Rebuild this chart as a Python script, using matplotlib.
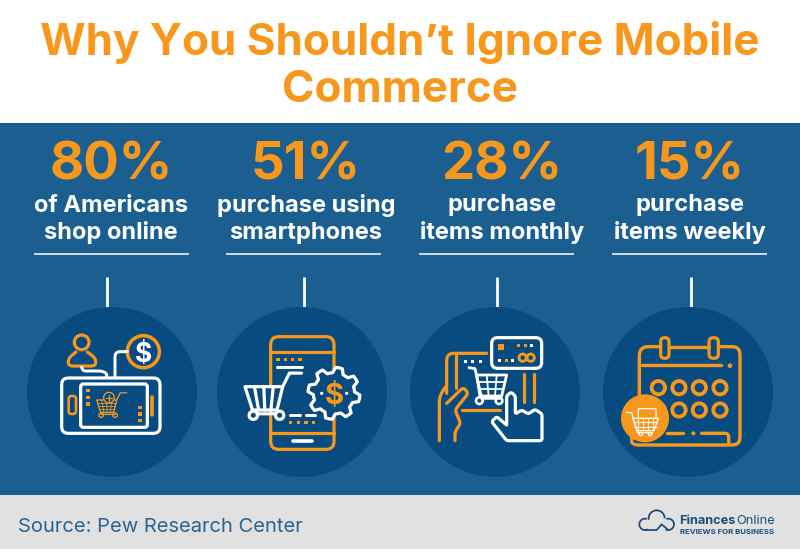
import matplotlib
matplotlib.use("Agg")
import matplotlib.pyplot as plt
import numpy as np
from matplotlib.patches import Rectangle, Circle, FancyBboxPatch, Polygon, Arc

# ---- content ----
title_lines = ["Why You Shouldn\u2019t Ignore Mobile", "Commerce"]
percent_values = [80, 51, 28, 15]
line_one = ["of Americans", "purchase using", "purchase", "purchase"]
line_two = ["shop online", "smartphones", "items monthly", "items weekly"]
source_text = "Source: Pew Research Center"
brand_bold = "Finances"
brand_light = "Online"
brand_tag = "REVIEWS FOR BUSINESS"

ORANGE = "#F7981D"
BLUE = "#1B5F91"
DARK = "#074B80"
GREY = "#E1E1E1"
WHITE = "#FFFFFF"
FONT = "Inter"
PX = 0.72

fig = plt.figure(figsize=(8.0, 5.49), dpi=100)
ax = fig.add_axes([0, 0, 1, 1])
ax.set_xlim(0, 800)
ax.set_ylim(549, 0)
ax.axis("off")

ax.add_patch(Rectangle((0, 123), 800, 372, fc=BLUE, ec="none", zorder=0))
ax.add_patch(Rectangle((0, 495), 800, 54, fc=GREY, ec="none", zorder=0))

# ---- helpers working in 3x crop coordinates ----
class P:
    ox = 0

def X(x): return P.ox + x / 3
def Y(y): return 290 + y / 3

def rounded(pts, r):
    """Replace inner corners of a polyline by short quadratic curves."""
    pts = [np.array(p, float) for p in pts]
    out = [pts[0]]
    for a, b, c in zip(pts, pts[1:], pts[2:]):
        d1 = min(r, np.linalg.norm(b - a) / 2)
        d2 = min(r, np.linalg.norm(c - b) / 2)
        s = b + (a - b) / np.linalg.norm(a - b) * d1
        e = b + (c - b) / np.linalg.norm(c - b) * d2
        for t in np.linspace(0, 1, 9):
            out.append((1 - t) ** 2 * s + 2 * t * (1 - t) * b + t ** 2 * e)
    out.append(pts[-1])
    return out

def line(pts, c=WHITE, w=3.0, z=3, r=0):
    if r:
        pts = rounded(pts, r)
    ax.plot([X(p[0]) for p in pts], [Y(p[1]) for p in pts], color=c, lw=w * PX,
            solid_capstyle="round", solid_joinstyle="round", zorder=z)

def shape(pts, c=WHITE, w=3.0, fc="none", z=3):
    ax.add_patch(Polygon([(X(p[0]), Y(p[1])) for p in pts], closed=True, fc=fc, ec=c,
                         lw=w * PX, joinstyle="round", zorder=z))

def rbox(x0, y0, x1, y1, r, c=WHITE, w=3.0, fc="none", z=3):
    r = r / 3
    ax.add_patch(FancyBboxPatch((X(x0) + r, Y(y0) + r), (x1 - x0) / 3 - 2 * r, (y1 - y0) / 3 - 2 * r,
                                boxstyle=f"round,pad={r},rounding_size={r}", fc=fc, ec=c,
                                lw=w * PX, zorder=z))

def ring(x, y, r, c=WHITE, w=3.0, fc="none", z=3):
    ax.add_patch(Circle((X(x), Y(y)), r / 3, fc=fc, ec=c, lw=w * PX, zorder=z))

def dots(pts, c=ORANGE, s=10, z=3):
    for x, y in pts:
        ax.add_patch(Rectangle((X(x) - s / 6, Y(y) - s / 6), s / 3, s / 3, fc=c, ec="none", zorder=z))

def cart(x, y, s, c=WHITE, w=3.0, grid=0, slats=0, fc="none", z=3):
    k = s / 100
    shape([(x, y), (x + 100 * k, y), (x + 85 * k, y + 62 * k), (x + 20 * k, y + 62 * k)], c, w, fc=fc, z=z)
    line([(x + 100 * k, y), (x + 118 * k, y - 36 * k), (x + 150 * k, y - 36 * k)], c, w, z)
    line([(x + 20 * k, y + 62 * k), (x + 24 * k, y + 72 * k), (x + 92 * k, y + 72 * k)], c, w, z)
    ring(x + 22 * k, y + 76 * k, 11 * k, c, w, fc=DARK if fc != "none" else "none", z=z)
    ring(x + 92 * k, y + 76 * k, 11 * k, c, w, fc=DARK if fc != "none" else "none", z=z)
    for i in range(1, slats + 1):
        f = i / (slats + 1)
        line([(x + 100 * f * k, y), (x + (20 + 65 * f) * k, y + 62 * k)], c, w, z)
    for i in range(1, grid + 1):
        f = i / (grid + 1)
        line([(x + 100 * f * k, y), (x + (20 + 65 * f) * k, y + 62 * k)], c, w * 0.6, z)
        line([(x + 20 * f * k, y + 62 * f * k), (x + (100 - 15 * f) * k, y + 62 * f * k)], c, w * 0.6, z)

def dollar(x, y, size, c=WHITE, z=4):
    ax.text(X(x), Y(y), "$", color=c, fontsize=size, fontweight="bold", family=FONT,
            ha="center", va="center_baseline", zorder=z)

# ---- icon 1 ----
def icon_shopper():
    P.ox = 0
    ring(245, 157, 22, ORANGE, 3.2)
    line([(228, 186), (205, 205), (205, 228), (287, 228), (287, 205), (262, 186)], ORANGE, 3.2, r=14)
    ring(430, 185, 48, ORANGE, 3.5)
    dollar(430, 186, 19)
    line([(245, 232), (250, 243), (305, 243), (320, 250), (320, 262)], r=8)
    line([(345, 262), (345, 185), (382, 185)], r=16)
    rbox(185, 264, 480, 430, 20, WHITE, 3.2, fc=DARK)
    rbox(242, 282, 442, 412, 8, WHITE, 3.2)
    rbox(206, 318, 228, 372, 8, ORANGE, 2.6)
    dots([(264, 302), (264, 322), (264, 342), (420, 352), (420, 372), (420, 392)])
    line([(457, 320), (457, 375)], ORANGE, 3.6)
    cart(290, 330, 60, ORANGE, 1.3, grid=3)
    ring(327, 323, 16, ORANGE, 1.3, fc=DARK)
    line([(318, 323), (336, 323)], ORANGE, 1.2)
    line([(327, 314), (327, 332)], ORANGE, 1.2)

# ---- icon 2 ----
def icon_phone():
    P.ox = 0
    rbox(812, 140, 1002, 478, 24, ORANGE, 3.2)
    line([(812, 185), (1002, 185)], ORANGE, 3.2)
    line([(812, 430), (1002, 430)], ORANGE, 3.2)
    dots([(834, 208), (856, 208), (878, 208), (900, 208)])
    line([(832, 231), (905, 231)])
    line([(880, 454), (935, 454)], WHITE, 3.6)
    line([(870, 376), (900, 376)])
    line([(917, 376), (945, 376)])
    dots([(872, 398), (895, 398), (918, 398), (941, 398)])
    cart(735, 290, 113, WHITE, 3.2, slats=3, fc=DARK, z=4)
    angles = np.deg2rad(np.arange(0, 360, 360 / 48) + 3.75)
    radii = [78, 78, 78, 62, 62, 62] * 8
    gx = 1002 + np.array(radii) * np.cos(angles)
    gy = 310 + np.array(radii) * np.sin(angles)
    shape(list(zip(gx, gy)), WHITE, 3.2, fc=DARK, z=4)
    dollar(1002, 311, 21, ORANGE, z=5)
    ax.add_patch(Circle((X(965), Y(310)), 1.6, fc=WHITE, ec="none", zorder=5))
    ax.add_patch(Circle((X(1040), Y(310)), 1.6, fc=WHITE, ec="none", zorder=5))

# ---- icon 3 ----
def icon_tablet():
    P.ox = 400
    line([(260, 190), (140, 190), (140, 310)], ORANGE, 3.2, r=22)
    line([(168, 195), (168, 295)], ORANGE, 3.2)
    line([(372, 252), (372, 335)], ORANGE, 3.2)
    line([(402, 252), (402, 335)], ORANGE, 3.2)
    line([(185, 360), (300, 360)], ORANGE, 3.2)
    line([(118, 452), (118, 320), (135, 292)], ORANGE, 3.2, r=20)
    line([(140, 340), (190, 292), (205, 310), (165, 360), (182, 400), (165, 425), (165, 452)], ORANGE, 3.2, r=10)
    rbox(275, 143, 425, 235, 18, WHITE, 3.2)
    dots([(302, 172)], ORANGE, 18)
    dots([(355, 165), (375, 165), (318, 212)], ORANGE, 9)
    dots([(395, 165), (298, 212), (338, 212)], WHITE, 9)
    ring(368, 203, 11, ORANGE, 2.8)
    ring(392, 203, 11, ORANGE, 2.8)
    dots([(197, 213), (218, 213), (240, 213)], WHITE, 9)
    shape([(230, 255), (320, 255), (305, 318), (240, 318)], WHITE, 2.8)
    line([(207, 233), (225, 236), (245, 325), (300, 325)], WHITE, 2.8)
    line([(260, 255), (266, 318)], WHITE, 1.8)
    line([(290, 255), (285, 318)], WHITE, 1.8)
    line([(235, 276), (315, 276)], WHITE, 1.8)
    line([(238, 297), (310, 297)], WHITE, 1.8)
    ring(238, 332, 10, WHITE, 2.6)
    ring(297, 332, 10, WHITE, 2.6)
    hand = rounded([(320, 405), (320, 318), (333, 306), (346, 318), (346, 372), (365, 360), (385, 372),
                    (405, 358), (426, 372), (426, 452), (320, 452), (275, 395), (290, 380), (320, 405)], 7)
    shape(hand, WHITE, 3.2, fc=DARK, z=4)

# ---- icon 4 ----
def icon_calendar():
    P.ox = 400
    line([(780, 170), (718, 170), (718, 420)], ORANGE, 3.4, r=28)
    line([(806, 170), (926, 170)], ORANGE, 3.4)
    line([(956, 170), (1020, 170), (1020, 465), (695, 465), (695, 440)], ORANGE, 3.4, r=24)
    rbox(782, 143, 807, 205, 12, ORANGE, 3.2)
    rbox(927, 143, 955, 205, 13, ORANGE, 3.2)
    line([(727, 226), (963, 226)], ORANGE, 3.4)
    ring(990, 227, 4, ORANGE, 2)
    for y in (293, 360):
        for x in (775, 837, 898, 960):
            ring(x, y, 20, ORANGE, 3.8)
    line([(800, 430), (850, 430)], ORANGE, 3.4)
    ring(880, 430, 3, ORANGE, 2)
    line([(905, 430), (986, 430), (986, 462)], ORANGE, 3.4, r=12)
    ring(735, 385, 72, ORANGE, 0, fc=ORANGE, z=4)
    rbox(715, 356, 768, 395, 2, WHITE, 1.2, z=5)
    shape([(698, 385), (775, 385), (762, 422), (712, 422)], WHITE, 1.3, fc=ORANGE, z=5)
    line([(678, 367), (695, 368), (712, 428), (758, 428)], WHITE, 1.3, z=5)
    for x in (715, 730, 745, 760):
        line([(x, 386), (x, 421)], WHITE, 0.9, z=5)
    for y in (397, 410):
        line([(702, y), (771, y)], WHITE, 0.9, z=5)
    ring(722, 432, 5, WHITE, 1.2, z=5)
    ring(750, 432, 5, WHITE, 1.2, z=5)

# ---- columns ----
text_centers = [111, 306, 502, 690]
rule_spans = [(34, 189), (226, 381), (419, 574), (612, 767)]
stems = [106.5, 304, 497, 691]
circle_centers = [112, 302, 495, 688]
icons = [icon_shopper, icon_phone, icon_tablet, icon_calendar]

for i, value in enumerate(percent_values):
    cx = text_centers[i]
    ax.text(cx, 161, f"{value}%", color=ORANGE, fontsize=38, fontweight="bold", family=FONT,
            ha="center", va="center_baseline", zorder=2)
    ax.text(cx, 203, line_one[i], color=WHITE, fontsize=17, fontweight="bold", family=FONT,
            ha="center", va="center_baseline", zorder=2)
    ax.text(cx, 230, line_two[i], color=WHITE, fontsize=17, fontweight="bold", family=FONT,
            ha="center", va="center_baseline", zorder=2)
    ax.plot(rule_spans[i], [254, 254], color=WHITE, lw=1.1, solid_capstyle="butt", zorder=2)
    ax.plot([stems[i], stems[i]], [277, 307], color=WHITE, lw=2.0, solid_capstyle="butt", zorder=1)
    ax.add_patch(Circle((circle_centers[i], 392), 85, fc=DARK, ec="none", zorder=1.5))
    icons[i]()

# ---- title ----
for y, txt in zip((38, 86), title_lines):
    ax.text(400, y, txt, color=ORANGE, fontsize=31.7, fontweight="bold", family=FONT,
            ha="center", va="center_baseline", zorder=2)

# ---- footer ----
ax.text(18, 525, source_text, color="#2A6496", fontsize=14.5, family=FONT,
        ha="left", va="center_baseline", zorder=2)
def fx(x): return 600 + x / 3
def fy(y): return 495 + y / 3
LOGO = "#1F4E79"
for (x, y, r, t1, t2) in [(135, 88, 17, 60, 290), (170, 70, 24, 170, 360), (205, 88, 17, -110, 120)]:
    ax.add_patch(Arc((fx(x), fy(y)), 2 * r / 3, 2 * r / 3, theta1=t1, theta2=t2,
                     color=LOGO, lw=1.3, zorder=3))
ax.plot([fx(135), fx(170), fx(185), fx(205)], [fy(105), fy(105), fy(88), fy(105)], color=LOGO, lw=1.3, zorder=3)
t = ax.text(679, 519, brand_bold, color=LOGO, fontsize=9.2, fontweight="bold", family=FONT,
            ha="left", va="center_baseline", zorder=3)
fig.canvas.draw()
bb = t.get_window_extent()
ax.text(bb.x1 + 0.5, 519, brand_light, color=LOGO, fontsize=9.2, family=FONT,
        ha="left", va="center_baseline", zorder=3)
ax.text(680, 531, brand_tag, color=LOGO, fontsize=5.6, fontweight="bold", family=FONT,
        ha="left", va="center_baseline", zorder=3)

fig.savefig("out.png", dpi=100)
